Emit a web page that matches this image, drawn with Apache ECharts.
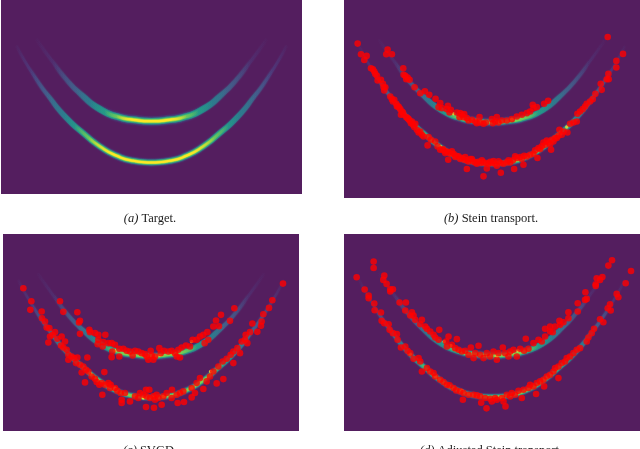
<!DOCTYPE html>
<html>
<head>
    <meta charset="utf-8"/>
    <title>Stein transport</title>
    <script src="https://cdn.jsdelivr.net/npm/echarts@6/dist/echarts.min.js"></script>
    <style>
        html, body { margin: 0; padding: 0; background: #fff; }
        #main { width: 640px; height: 449px; }
    </style>
</head>
<body>
<div id="main"></div>
<script type="text/javascript">

    // all positions below (units: 1/3 px)
    var lowerArc = [[50,140],[100,225],[150,295],[200,355],[250,400],[300,440],[350,468],[400,483],[455,488],[510,483],[560,468],[610,440],[660,400],[710,355],[760,295],[810,225],[860,140]];
    var upperArc = [[110,120],[150,175],[200,240],[250,290],[300,328],[350,350],[400,360],[455,364],[510,360],[560,350],[610,328],[660,290],[710,240],[760,175],[800,120]];

    var captions = ['Target.', 'Stein transport.', 'SVGD.', 'Adjusted Stein transport.'];
    var captionTags = ['(a)', '(b)', '(c)', '(d)'];

    var dotsB = [[202,149],[198,163],[215,163],[249,205],[250,225],[255,228],[262,233],[268,240],[258,238],[283,262],[300,280],[314,274],[327,285],[346,297],[360,310],[355,322],[365,325],[383,318],[380,328],[392,330],[388,338],[410,338],[420,340],[425,345],[432,343],[418,352],[430,352],[440,355],[445,362],[455,360],[465,365],[470,370],[478,352],[480,368],[490,372],[497,368],[515,358],[518,370],[525,365],[530,352],[535,368],[545,362],[560,362],[575,358],[590,350],[605,345],[620,340],[630,335],[640,325],[650,322],[638,315],[672,312],[684,303],
        [112,131],[122,163],[132,180],[139,168],[152,205],[158,208],[162,215],[165,222],[170,228],[172,242],[182,240],[188,252],[190,262],[195,262],[192,272],[210,290],[215,298],[222,300],[218,305],[228,312],[232,318],[236,322],[240,328],[245,335],[242,345],[250,345],[258,352],[262,355],[268,362],[272,370],[278,375],[285,372],[282,382],[290,390],[295,398],[305,405],[310,410],[325,412],[332,420],[322,437],[345,425],[352,440],[360,450],[370,452],[378,455],[385,458],[392,462],[400,462],[408,468],[384,480],[415,470],[425,475],[432,480],[440,482],[440,508],[450,478],[458,485],[465,488],[475,486],[482,490],[490,488],[498,490],[505,492],[515,490],[525,492],[535,485],[542,490],[550,492],[490,530],[542,519],[500,506],[560,488],[570,488],[582,508],[578,482],[590,475],[600,472],[610,495],[612,468],[620,470],[630,465],[640,462],[652,475],[645,452],[655,445],[665,440],[675,435],[685,428],[693,450],[695,420],[705,415],[715,408],[718,390],[725,405],[730,395],[742,398],[750,372],[760,368],[770,365],[772,342],[780,335],[788,328],[795,320],[800,312],[810,305],[818,298],[826,282],[845,270],[842,252],[860,238],[865,222],[866,238],[889,203],[889,183],[909,162],[863,111],
        [230,320],[248,338],[265,358],[275,365],[300,395],[368,448],[375,460],[395,455],[405,472],[420,478],[435,472],[445,485],[455,478],[470,492],[485,482],[510,486],[520,484],[530,498],[565,482],[585,470],[605,478],[660,448],[670,428],[680,422],[690,434],[700,425],[710,415]];
    var dotsC = [[180,229],[190,261],[232,262],[240,288],[237,293],[240,327],[268,315],[270,322],[285,325],[295,330],[316,330],[295,345],[293,358],[310,352],[308,365],[325,355],[335,355],[345,360],[337,380],[335,397],[358,395],[358,372],[370,372],[380,378],[390,380],[398,392],[405,378],[415,380],[425,385],[435,388],[440,395],[445,405],[452,378],[455,392],[460,405],[465,395],[478,370],[482,385],[492,378],[505,380],[515,378],[525,385],[530,395],[540,398],[535,375],[545,368],[558,362],[570,365],[578,345],[590,345],[600,335],[610,330],[622,322],[625,345],[614,355],[640,305],[648,287],[663,270],[657,304],[690,288],[703,250],
        [70,190],[94,229],[91,255],[125,260],[126,280],[135,290],[140,308],[148,310],[165,322],[158,330],[150,335],[172,342],[185,335],[195,350],[145,353],[183,362],[190,368],[200,375],[205,390],[215,395],[205,405],[222,400],[232,398],[228,415],[240,420],[250,425],[262,398],[258,435],[265,440],[245,443],[313,442],[255,473],[275,455],[285,462],[290,472],[298,480],[305,475],[315,480],[325,475],[332,480],[330,490],[307,510],[345,490],[352,498],[362,505],[375,505],[365,525],[365,535],[390,530],[405,515],[415,520],[420,505],[430,510],[438,495],[448,495],[440,515],[450,520],[460,515],[465,525],[470,510],[475,520],[490,515],[500,505],[516,495],[515,520],[530,510],[540,505],[550,500],[533,535],[552,532],[485,540],[438,547],[462,549],[575,518],[585,505],[575,490],[590,475],[600,460],[610,493],[620,470],[630,455],[640,440],[650,476],[670,463],[655,425],[668,410],[680,402],[692,390],[700,380],[700,415],[712,370],[720,385],[725,350],[735,345],[742,355],[737,330],[750,322],[757,296],[772,321],[783,303],[785,290],[790,268],[807,249],[817,226],[849,176]];
    var dotsD = [[160,110],[160,129],[192,152],[189,165],[199,177],[210,193],[218,193],[210,200],[238,233],[257,233],[255,257],[275,262],[280,272],[285,285],[270,272],[305,285],[300,298],[315,305],[320,312],[330,320],[340,330],[345,338],[357,315],[355,345],[385,335],[378,350],[410,343],[380,365],[395,360],[405,370],[415,375],[425,380],[435,378],[445,390],[452,368],[460,400],[465,385],[475,363],[480,390],[490,400],[500,385],[510,395],[520,380],[530,405],[535,385],[548,368],[555,385],[565,395],[570,380],[580,375],[590,395],[600,372],[612,378],[625,372],[617,342],[640,355],[655,345],[665,350],[675,335],[675,312],[690,320],[698,322],[690,305],[705,305],[720,300],[718,288],[730,292],[745,280],[745,262],[773,260],[773,235],[795,225],[800,222],[796,202],[827,183],[827,178],[830,160],[840,165],[847,156],[865,122],[876,106],
        [109,157],[133,194],[145,212],[145,220],[162,236],[163,256],[182,263],[184,288],[192,295],[205,298],[208,315],[218,325],[230,328],[232,345],[242,368],[255,365],[262,378],[270,385],[280,402],[295,400],[300,410],[305,440],[320,430],[330,440],[340,445],[345,455],[360,465],[370,472],[380,480],[388,482],[400,490],[408,497],[420,500],[430,505],[428,525],[445,510],[460,510],[470,512],[480,515],[483,534],[495,520],[510,522],[515,530],[525,520],[499,551],[530,525],[545,520],[550,530],[556,545],[560,510],[570,515],[575,505],[585,510],[595,498],[605,520],[610,495],[625,490],[630,480],[640,485],[648,508],[650,475],[660,470],[670,465],[672,485],[680,455],[690,450],[700,440],[715,460],[705,430],[715,425],[725,415],[735,410],[740,400],[750,395],[760,385],[770,375],[780,370],[800,350],[805,338],[815,325],[822,312],[840,283],[850,292],[863,250],[872,257],[870,238],[890,207],[895,217],[917,175],[933,138]];

    // bright spots of the sampled density that show between the dots
    var flecksB = [[540,366],[575,358],[400,342],[360,440],[635,464],[722,400],[740,382],[520,492]];
    var flecksC = [[480,392],[345,378],[575,350],[430,520],[345,490],[575,490],[272,448],[632,440],[490,515]];
    var flecksD = [[593,378],[392,362],[372,350],[540,518],[345,455],[425,497],[270,388],[530,395]];

    var BG = '#541e5f';

    var panels = [
        {rect: [1, 0, 301, 194],  dots: null,  flecks: null,    xr: [3, 907], yr: [0, 583], full: true},
        {rect: [344, 0, 296, 198], dots: dotsB, flecks: flecksB, xr: [3, 907], yr: [0, 590], dx: [71, 960], dy: [0, 595]},
        {rect: [3, 234, 296, 197], dots: dotsC, flecks: flecksC, xr: [3, 907], yr: [0, 588], dx: [9, 897], dy: [27, 619]},
        {rect: [344, 234, 296, 197], dots: dotsD, flecks: flecksD, xr: [3, 907], yr: [0, 590], dx: [71, 960], dy: [27, 619]}
    ];
    var capX = [150, 491, 150, 491];
    var capY = [212, 212, 444, 444];

    // colour, width, alpha, fade in from/to, fade out from/to (fraction of the arc)
    var lowerLevels = [
        ['#45397f', 8, 0.4, 0.25, 0.38, 0.62, 0.75],
        ['#4a4a8c', 3, 0.7, 0, 0.12, 0.88, 1],
        ['#3e6a8e', 4.5, 0.85, 0.06, 0.18, 0.82, 0.94],
        ['#26828e', 5.5, 0.95, 0.12, 0.24, 0.76, 0.88],
        ['#25a085', 4.2, 1, 0.18, 0.28, 0.72, 0.82],
        ['#7ad151', 3, 1, 0.22, 0.31, 0.69, 0.78],
        ['#fde725', 2, 1, 0.27, 0.36, 0.64, 0.73]
    ];
    var upperLevels = [
        ['#45397f', 10, 0.4, 0.28, 0.4, 0.6, 0.72],
        ['#4a4a8c', 3.5, 0.5, 0, 0.2, 0.8, 1],
        ['#3e6a8e', 5, 0.75, 0.08, 0.22, 0.78, 0.92],
        ['#26828e', 6.5, 0.95, 0.18, 0.3, 0.7, 0.82],
        ['#25a085', 5, 1, 0.24, 0.35, 0.65, 0.76],
        ['#7ad151', 3.4, 1, 0.3, 0.39, 0.61, 0.7],
        ['#fde725', 2.2, 1, 0.35, 0.42, 0.58, 0.65]
    ];

    function rgba(hex, a) {
        var n = parseInt(hex.slice(1), 16);
        return 'rgba(' + (n >> 16) + ',' + ((n >> 8) & 255) + ',' + (n & 255) + ',' + a + ')';
    }

    function bandSeries(arc, lv, idx, thin) {
        return {
            type: 'line',
            xAxisIndex: idx * 2,
            yAxisIndex: idx * 2,
            data: arc,
            smooth: 0.6,
            symbol: 'none',
            silent: true,
            z: 2,
            lineStyle: {
                width: lv[1] * thin,
                cap: 'round',
                shadowBlur: 1.5,
                shadowColor: lv[0],
                color: {
                    type: 'linear', x: 0, y: 0, x2: 1, y2: 0,
                    colorStops: [
                        {offset: 0, color: rgba(lv[0], 0)},
                        {offset: lv[3], color: rgba(lv[0], 0)},
                        {offset: lv[4], color: rgba(lv[0], lv[2])},
                        {offset: lv[5], color: rgba(lv[0], lv[2])},
                        {offset: lv[6], color: rgba(lv[0], 0)},
                        {offset: 1, color: rgba(lv[0], 0)}
                    ]
                }
            }
        };
    }

    var grids = [], xAxes = [], yAxes = [], series = [], titles = [];

    panels.forEach(function (p, i) {
        grids.push({left: p.rect[0], top: p.rect[1], width: p.rect[2], height: p.rect[3],
            show: true, backgroundColor: BG, borderWidth: 0});
        // density axes, then dot axes
        xAxes.push({show: false, type: 'value', gridIndex: i, min: p.xr[0], max: p.xr[1]});
        yAxes.push({show: false, type: 'value', gridIndex: i, inverse: true, min: p.yr[0], max: p.yr[1]});
        xAxes.push({show: false, type: 'value', gridIndex: i, min: p.dx ? p.dx[0] : 0, max: p.dx ? p.dx[1] : 1});
        yAxes.push({show: false, type: 'value', gridIndex: i, inverse: true, min: p.dy ? p.dy[0] : 0, max: p.dy ? p.dy[1] : 1});

        var thin = p.full ? 1 : 0.85;
        lowerLevels.forEach(function (lv, k) {
            if (p.full || k < 6) series.push(bandSeries(lowerArc, lv, i, thin));
        });
        upperLevels.forEach(function (lv, k) {
            if (p.full || k < 6) series.push(bandSeries(upperArc, lv, i, thin));
        });
        if (p.flecks) {
            series.push({type: 'scatter', xAxisIndex: i * 2 + 1, yAxisIndex: i * 2 + 1, data: p.flecks,
                symbolSize: 3.5, silent: true, z: 3, itemStyle: {color: '#f0e52c'}});
        }
        if (p.dots) {
            series.push({type: 'scatter', xAxisIndex: i * 2 + 1, yAxisIndex: i * 2 + 1, data: p.dots,
                symbolSize: 6.6, silent: true, z: 4, itemStyle: {color: '#ff0000', opacity: 0.8}});
        }
        titles.push({
            text: '{i|' + captionTags[i] + '} ' + captions[i],
            left: capX[i], top: capY[i], textAlign: 'center', padding: 0,
            textStyle: {
                fontFamily: 'Liberation Serif', fontSize: 12.5, fontWeight: 'normal', color: '#1a1a1a',
                rich: {i: {fontFamily: 'Liberation Serif', fontStyle: 'italic', fontSize: 12.5, color: '#1a1a1a'}}
            }
        });
    });

    var myChart = echarts.init(document.getElementById('main'));
    myChart.setOption({
        animation: false,
        backgroundColor: '#fff',
        title: titles,
        grid: grids,
        xAxis: xAxes,
        yAxis: yAxes,
        series: series
    });
</script>
</body>
</html>
